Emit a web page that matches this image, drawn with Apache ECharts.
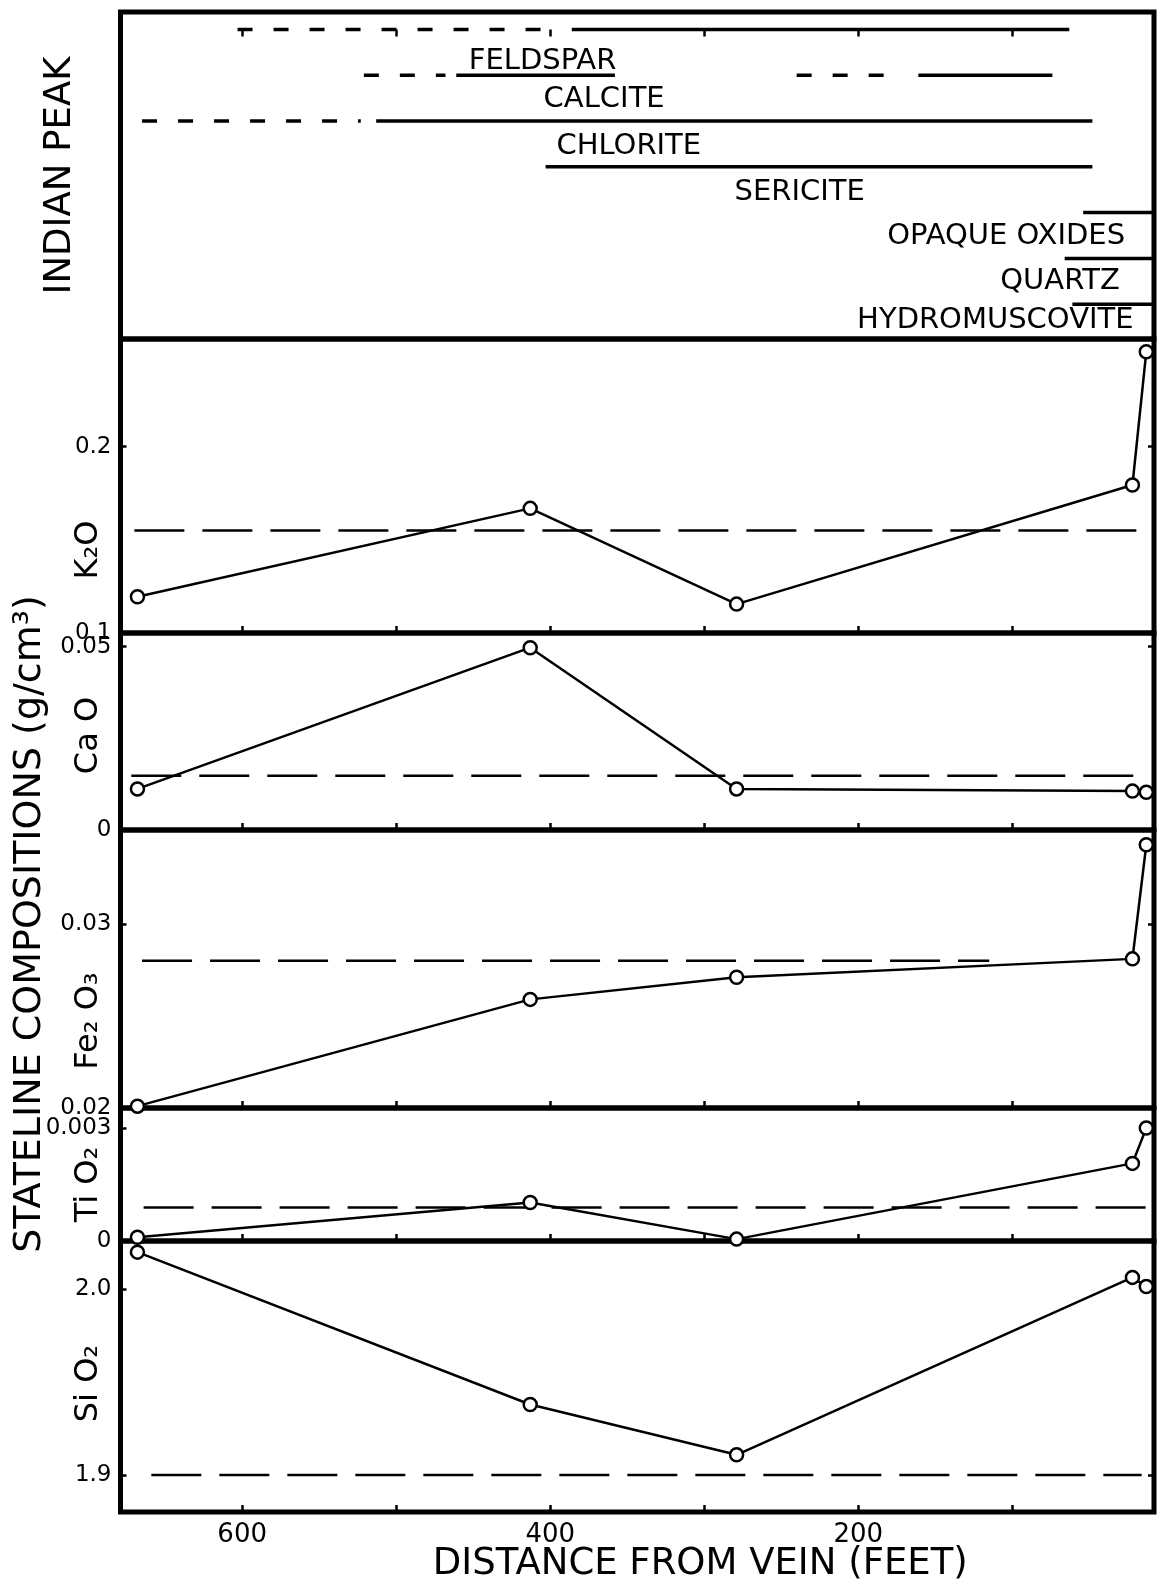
<!DOCTYPE html>
<html>
<head>
<meta charset="utf-8">
<title>Stateline compositions vs distance from vein</title>
<script src="https://cdn.jsdelivr.net/npm/echarts@6/dist/echarts.min.js"></script>
<style>
  html, body { margin: 0; padding: 0; background: #fff; }
  #chart { width: 1162px; height: 1584px; }
</style>
</head>
<body>
<div id="chart"></div>
<script>
// ---- data -----------------------------------------------------------
// sample distances from the vein (feet)
var distance = [668, 413, 279, 22, 13];

// stateline compositions (g/cm3)
var k2o   = [0.1195, 0.1669, 0.1155, 0.1794, 0.2510];
var cao   = [0.0112, 0.0497, 0.0112, 0.0106, 0.0103];
var fe2o3 = [0.0201, 0.0259, 0.0271, 0.0281, 0.0343];
var tio2  = [0.0001, 0.00102, 0.00005, 0.00206, 0.0030];
var sio2  = [2.0200, 1.9379, 1.9108, 2.0064, 2.0015];

// dashed reference level of each oxide and the distance span it covers
var refLevel = [0.155, 0.0148, 0.0280, 0.00089, 1.90];
var refFrom  = [670, 672, 665, 664, 659];
var refTo    = [13, 12, 115, 13, 16];

// y-axis tick values of each oxide panel
var k2oTicks   = [0.1, 0.2];
var caoTicks   = [0, 0.05];
var fe2o3Ticks = [0.02, 0.03];
var tio2Ticks  = [0, 0.003];
var sio2Ticks  = [1.9, 2.0];

// x-axis ticks and labels (feet)
var xTicks  = [600, 500, 400, 300, 200, 100];
var xLabels = [600, 400, 200];

// Indian Peak mineral occurrence (feet): solid = present, dashed = doubtful
var minerals = ['FELDSPAR', 'CALCITE', 'CHLORITE', 'SERICITE', 'OPAQUE OXIDES', 'QUARTZ', 'HYDROMUSCOVITE'];
var mineralSolid = [
  [[386, 63]],
  [[461, 358], [161, 74]],
  [[513, 48]],
  [[403, 48]],
  [[54, 8]],
  [[66, 8]],
  [[61, 8]]
];
var mineralDashed = [
  [[603, 402]],
  [[521, 468], [240, 171]],
  [[665, 523]],
  [], [], [], []
];
var mineralLabelAt = [405, 365, 349, 238, 104, 69, 111];

// ---- layout -----------------------------------------------------------
var X_MIN = 8, X_MAX = 679;
var plotLeft = 120.5, plotRight = 8;

var panels = [
  { name: 'K₂O',    values: k2o,   ticks: k2oTicks,   min: 0.1,  max: 0.2578, digits: 1, top: 339,  height: 294, shift: 128 },
  { name: 'Ca O',   values: cao,   ticks: caoTicks,   min: 0,    max: 0.0537, digits: 2, top: 633,  height: 197, shift: 8 },
  { name: 'Fe₂ O₃', values: fe2o3, ticks: fe2o3Ticks, min: 0.02, max: 0.0351, digits: 2, top: 830,  height: 278, shift: 104 },
  { name: 'Ti O₂',  values: tio2,  ticks: tio2Ticks,  min: 0,    max: 0.00353, digits: 3, top: 1108, height: 133, shift: 20 },
  { name: 'Si O₂',  values: sio2,  ticks: sio2Ticks,  min: 1.88, max: 2.026, digits: 1, top: 1241, height: 271, shift: 14 }
];

var FONT = 'DejaVu Sans';
var black = '#000';

var grids = [], xAxes = [], yAxes = [], series = [];

function xAxisFor(i, isTop, isLast) {
  return {
    gridIndex: i, type: 'value', min: X_MIN, max: X_MAX, inverse: true,
    position: isTop ? 'top' : 'bottom',
    axisLine: { show: false },
    splitLine: { show: false },
    axisTick: { show: true, inside: true, length: 7, customValues: xTicks,
      lineStyle: { color: black, width: 2.5 } },
    axisLabel: { show: isLast, customValues: xLabels, margin: 10,
      fontFamily: FONT, fontSize: 26, color: black },
    name: isLast ? 'DISTANCE FROM VEIN (FEET)' : '',
    nameLocation: 'middle', nameGap: 34, nameMoveOverlap: false,
    nameTextStyle: { fontFamily: FONT, fontSize: 37, color: black, padding: [0, 0, 0, 126] }
  };
}

// top panel (mineral ranges)
grids.push({ left: plotLeft, right: plotRight, top: 12, height: 327, show: true,
  borderColor: black, borderWidth: 5, backgroundColor: 'transparent' });
xAxes.push(xAxisFor(0, true, false));
yAxes.push({
  gridIndex: 0, type: 'value', min: -0.38, max: 6.76, inverse: true,
  axisLine: { show: false }, axisTick: { show: false }, axisLabel: { show: false },
  splitLine: { show: false },
  name: 'INDIAN PEAK', nameLocation: 'middle', nameGap: 42, nameRotate: 90,
  nameMoveOverlap: false,
  nameTextStyle: { fontFamily: FONT, fontSize: 37, color: black }
});
yAxes.push({ gridIndex: 0, type: 'value', show: false, min: 0, max: 1 });

minerals.forEach(function (m, row) {
  mineralSolid[row].forEach(function (seg) {
    series.push({ type: 'line', xAxisIndex: 0, yAxisIndex: 0, silent: true,
      symbol: 'none', data: [[seg[0], row], [seg[1], row]],
      lineStyle: { color: black, width: 3.5 } });
  });
  mineralDashed[row].forEach(function (seg) {
    series.push({ type: 'line', xAxisIndex: 0, yAxisIndex: 0, silent: true,
      symbol: 'none', data: [[seg[0], row], [seg[1], row]],
      lineStyle: { color: black, width: 3.5, type: [15, 21], cap: 'butt' } });
  });
});

var labelRow = [0.69, 1.54, 2.56, 3.55, 4.53, 5.51, 6.35];
series.push({
  type: 'scatter', xAxisIndex: 0, yAxisIndex: 0, silent: true, symbolSize: 0,
  itemStyle: { opacity: 1 },
  data: minerals.map(function (m, i) { return [mineralLabelAt[i], labelRow[i]]; }),
  label: { show: true, position: 'inside', color: black, fontFamily: FONT, fontSize: 29,
    formatter: function (p) { return minerals[p.dataIndex]; } }
});

// oxide panels
panels.forEach(function (p, k) {
  var g = k + 1;
  var isLast = k === panels.length - 1;
  grids.push({ left: plotLeft, right: plotRight, top: p.top, height: p.height, show: true,
    borderColor: black, borderWidth: 5, backgroundColor: 'transparent' });
  xAxes.push(xAxisFor(g, false, isLast));
  var fmt = function (v) { return v === 0 ? '0' : v.toFixed(p.digits); };
  yAxes.push({
    gridIndex: g, type: 'value', min: p.min, max: p.max,
    axisLine: { show: false }, splitLine: { show: false },
    axisTick: { show: true, inside: true, length: 6, customValues: p.ticks,
      lineStyle: { color: black, width: 2.5 } },
    axisLabel: { customValues: p.ticks, formatter: fmt, margin: 9,
      fontFamily: FONT, fontSize: 23, color: black },
    name: p.name, nameLocation: 'middle', nameGap: 16, nameRotate: 90,
    nameMoveOverlap: false,
    nameTextStyle: { fontFamily: FONT, fontSize: 32, color: black, padding: [0, p.shift, 0, 0] }
  });
  yAxes.push({
    gridIndex: g, type: 'value', min: p.min, max: p.max, position: 'right',
    axisLine: { show: false }, splitLine: { show: false }, axisLabel: { show: false },
    axisTick: { show: true, inside: true, length: 6, customValues: p.ticks,
      lineStyle: { color: black, width: 2.5 } }
  });

  series.push({
    type: 'line', xAxisIndex: g, yAxisIndex: 2 * g, silent: true, symbol: 'none',
    data: [[refFrom[k], refLevel[k]], [refTo[k], refLevel[k]]],
    lineStyle: { color: black, width: 2.5, type: [50, 18], cap: 'butt' }
  });
  series.push({
    type: 'line', xAxisIndex: g, yAxisIndex: 2 * g, silent: true,
    data: distance.map(function (d, j) { return [d, p.values[j]]; }),
    symbol: 'circle', symbolSize: 13,
    itemStyle: { color: '#fff', borderColor: black, borderWidth: 2.5 },
    lineStyle: { color: black, width: 2.5 },
    clip: false
  });
});

var chart = echarts.init(document.getElementById('chart'), null, { renderer: 'canvas' });
chart.setOption({
  backgroundColor: '#fff',
  animation: false,
  grid: grids,
  xAxis: xAxes,
  yAxis: yAxes,
  series: series,
  graphic: [{
    type: 'text', x: 30, y: 924, rotation: Math.PI / 2, silent: true,
    style: { text: 'STATELINE COMPOSITIONS (g/cm³)', fill: black,
      font: '38px "DejaVu Sans"', textAlign: 'center', textVerticalAlign: 'middle' }
  }]
});
</script>
</body>
</html>
